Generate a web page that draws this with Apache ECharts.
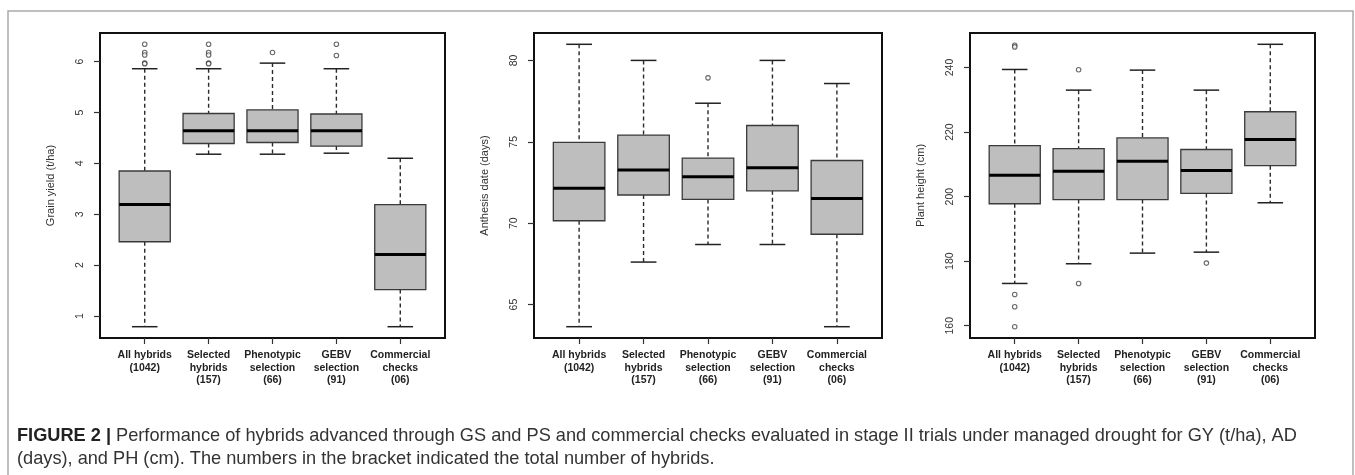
<!DOCTYPE html>
<html>
<head>
<meta charset="utf-8">
<script src="https://cdn.jsdelivr.net/npm/echarts@6/dist/echarts.min.js"></script>
<style>
html,body{margin:0;padding:0;background:#fff;}
#chart{width:1355px;height:475px;}
</style>
</head>
<body>
<div id="chart"></div>
<script>
// ---- data ----
const categories = ['All hybrids\n(1042)', 'Selected\nhybrids\n(157)', 'Phenotypic\nselection\n(66)', 'GEBV\nselection\n(91)', 'Commercial\nchecks\n(06)'];
// five-number summaries: [lower whisker, Q1, median, Q3, upper whisker]
const gyStats = [
  [0.79, 2.46, 3.19, 3.85, 5.86],
  [4.18, 4.39, 4.64, 4.98, 5.86],
  [4.18, 4.41, 4.64, 5.05, 5.97],
  [4.20, 4.34, 4.64, 4.97, 5.86],
  [0.79, 1.52, 2.21, 3.19, 4.10]
];
const gyOutliers = [[1, 6.34], [1, 6.18], [1, 6.13], [1, 5.97], [1, 5.96], [2, 6.34], [2, 6.18], [2, 6.13], [2, 5.97], [2, 5.96], [3, 6.18], [4, 6.34], [4, 6.12]];
const adStats = [
  [63.64, 70.15, 72.14, 74.96, 80.99],
  [67.61, 71.73, 73.27, 75.41, 80.00],
  [68.69, 71.46, 72.86, 74.00, 77.37],
  [68.69, 71.99, 73.41, 76.00, 80.00],
  [63.64, 69.32, 71.52, 73.85, 78.58]
];
const adOutliers = [[3, 78.93]];
const phStats = [
  [173.1, 197.8, 206.6, 215.8, 239.4],
  [179.2, 199.1, 207.9, 214.9, 233.0],
  [182.5, 199.1, 211.0, 218.2, 239.2],
  [182.8, 201.0, 208.1, 214.6, 233.0],
  [198.1, 209.6, 217.7, 226.3, 247.2]
];
const phOutliers = [[1, 246.9], [1, 246.4], [1, 169.7], [1, 165.9], [1, 159.7], [2, 239.3], [2, 173.1], [4, 179.4]];
const gyTicks = [1, 2, 3, 4, 5, 6];
const adTicks = [65, 70, 75, 80];
const phTicks = [160, 180, 200, 220, 240];
const yNames = ['Grain yield (t/ha)', 'Anthesis date (days)', 'Plant height (cm)'];
const caption1 = 'Performance of hybrids advanced through GS and PS and commercial checks evaluated in stage II trials under managed drought for GY (t/ha), AD';
const caption2 = '(days), and PH (cm). The numbers in the bracket indicated the total number of hybrids.';

// ---- chart ----
const panels = [
  {stats: gyStats, out: gyOutliers, ticks: gyTicks, left: 100, width: 345},
  {stats: adStats, out: adOutliers, ticks: adTicks, left: 534, width: 348},
  {stats: phStats, out: phOutliers, ticks: phTicks, left: 970, width: 345}
];

function extent(stats, out) {
  let lo = Infinity, hi = -Infinity;
  stats.forEach(r => r.forEach(v => { lo = Math.min(lo, v); hi = Math.max(hi, v); }));
  out.forEach(p => { lo = Math.min(lo, p[1]); hi = Math.max(hi, p[1]); });
  const pad = (hi - lo) * 0.04;
  return [lo - pad, hi + pad];
}

const dashed = {stroke: '#2a2a2a', lineWidth: 1.4, lineDash: [4, 3]};
const solid = {stroke: '#222', lineWidth: 1.5};
const FONT = 'Liberation Sans, Arial, sans-serif';

function renderBox(params, api) {
  const x = api.value(0);
  const pLo = api.coord([x, api.value(1)]);
  const pQ1 = api.coord([x, api.value(2)]);
  const pMd = api.coord([x, api.value(3)]);
  const pQ3 = api.coord([x, api.value(4)]);
  const pHi = api.coord([x, api.value(5)]);
  const bw = api.size([0.8, 0])[0];
  const cw = bw * 0.5;
  const cx = pMd[0];
  return {type: 'group', children: [
    {type: 'line', shape: {x1: cx, y1: pHi[1], x2: cx, y2: pQ3[1]}, style: dashed},
    {type: 'line', shape: {x1: cx, y1: pQ1[1], x2: cx, y2: pLo[1]}, style: dashed},
    {type: 'line', shape: {x1: cx - cw / 2, y1: pHi[1], x2: cx + cw / 2, y2: pHi[1]}, style: solid},
    {type: 'line', shape: {x1: cx - cw / 2, y1: pLo[1], x2: cx + cw / 2, y2: pLo[1]}, style: solid},
    {type: 'rect', shape: {x: cx - bw / 2, y: pQ3[1], width: bw, height: pQ1[1] - pQ3[1]}, style: {fill: '#bebebe', stroke: '#3a3a3a', lineWidth: 1.3}},
    {type: 'line', shape: {x1: cx - bw / 2, y1: pMd[1], x2: cx + bw / 2, y2: pMd[1]}, style: {stroke: '#000', lineWidth: 3}}
  ]};
}

const grid = [], xAxis = [], yAxis = [], series = [];
panels.forEach((p, i) => {
  const [ymin, ymax] = extent(p.stats, p.out);
  grid.push({left: p.left, width: p.width, top: 33, height: 305, show: true, borderColor: '#111', borderWidth: 2, backgroundColor: 'transparent'});
  xAxis.push({
    type: 'value', gridIndex: i, min: 0.3, max: 5.7,
    splitLine: {show: false}, axisLine: {show: false},
    axisTick: {show: true, length: 6, lineStyle: {color: '#333', width: 1.2}, customValues: [1, 2, 3, 4, 5]},
    axisLabel: {customValues: [1, 2, 3, 4, 5], formatter: v => categories[Math.round(v) - 1] || '',
      fontFamily: FONT, fontWeight: 'bold', fontSize: 10.5, lineHeight: 12.5, color: '#222', margin: 11, verticalAlign: 'top'}
  });
  yAxis.push({
    type: 'value', gridIndex: i, min: ymin, max: ymax,
    name: yNames[i], nameLocation: 'middle', nameGap: 44, nameRotate: 90,
    nameTextStyle: {fontFamily: FONT, fontSize: 11, color: '#333'},
    splitLine: {show: false}, axisLine: {show: false},
    axisTick: {show: true, length: 6, lineStyle: {color: '#333', width: 1.2}, customValues: p.ticks},
    axisLabel: {customValues: p.ticks, rotate: 90, fontFamily: FONT, fontSize: 10.5, color: '#333', margin: 14}
  });
  series.push({
    type: 'custom', xAxisIndex: i, yAxisIndex: i,
    renderItem: renderBox,
    encode: {x: 0, y: [1, 2, 3, 4, 5]},
    data: p.stats.map((r, k) => [k + 1].concat(r)),
    silent: true
  });
  series.push({
    type: 'scatter', xAxisIndex: i, yAxisIndex: i,
    symbol: 'circle', symbolSize: 4.5,
    itemStyle: {color: '#fff', borderColor: '#444', borderWidth: 1.1},
    data: p.out, silent: true
  });
});

const chart = echarts.init(document.getElementById('chart'), null, {renderer: 'canvas'});
chart.setOption({
  animation: false,
  grid, xAxis, yAxis, series,
  graphic: [
    {type: 'rect', shape: {x: 8, y: 11, width: 1345, height: 500}, style: {fill: 'none', stroke: '#aaa', lineWidth: 1.5}, silent: true},
    {type: 'text', left: 17, top: 427, style: {
      text: '{b|FIGURE 2 |} ' + caption1,
      rich: {b: {fontWeight: 'bold', fontSize: 18.2, fontFamily: FONT, fill: '#222'}},
      fontSize: 18.2, fontFamily: FONT, fill: '#333'}},
    {type: 'text', left: 17, top: 450, style: {
      text: caption2, fontSize: 18.2, fontFamily: FONT, fill: '#333'}}
  ]
});
</script>
</body>
</html>
